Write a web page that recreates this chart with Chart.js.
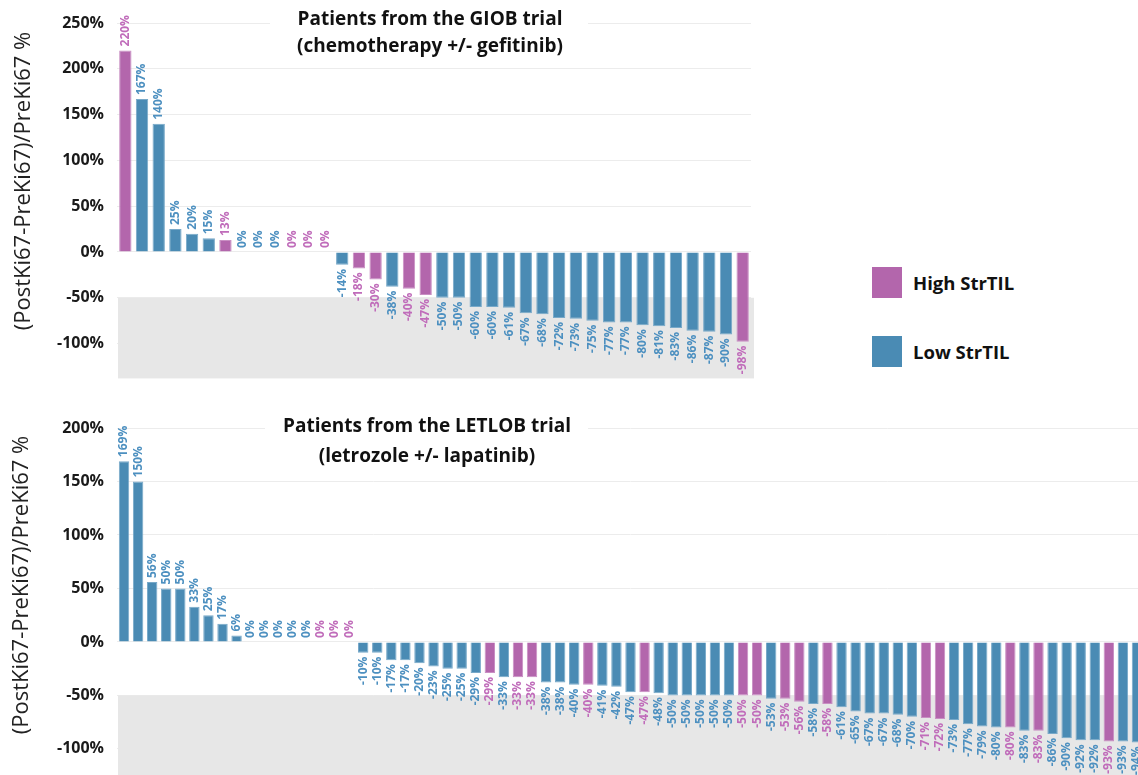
<!DOCTYPE html>
<html>
<head>
<meta charset="utf-8">
<script src="https://cdn.jsdelivr.net/npm/chart.js@4"></script>
<style>
  body { margin: 0; background: #fff; overflow: hidden; }
  #wrap { position: relative; width: 1138px; height: 775px; overflow: hidden; font-family: 'Open Sans', sans-serif; }
  #giobChart { position: absolute; left: 0; top: 0; }
  #letlobChart { position: absolute; left: 0; top: 400px; }
  .legend { position: absolute; left: 872px; display: flex; align-items: center; font-weight: 700; font-size: 18.5px; color: #111; }
  .legend span.sw { width: 30px; height: 31px; margin-right: 11px; display: inline-block; }
</style>
</head>
<body>
<div id="wrap">
  <canvas id="giobChart" width="760" height="401"></canvas>
  <canvas id="letlobChart" width="1150" height="425"></canvas>
  <div class="legend" style="top:267px;"><span class="sw" style="background:#b366ac;"></span>High StrTIL</div>
  <div class="legend" style="top:336px;"><span class="sw" style="background:#4a8bb4;"></span>Low StrTIL</div>
</div>
<script>
// GIOB trial (chemotherapy +/- gefitinib), one bar per patient
const giobValues = [220, 167, 140, 25, 20, 15, 13, 0, 0, 0, 0, 0, 0,
  -14, -18, -30, -38, -40, -47, -50, -50, -60, -60, -61, -67, -68, -72, -73,
  -75, -77, -77, -80, -81, -83, -86, -87, -90, -98];
const giobTil = ['H', 'L', 'L', 'L', 'L', 'L', 'H', 'L', 'L', 'L', 'H', 'H', 'H',
  'L', 'H', 'H', 'L', 'H', 'H', 'L', 'L', 'L', 'L', 'L', 'L', 'L', 'L', 'L',
  'L', 'L', 'L', 'L', 'L', 'L', 'L', 'L', 'L', 'H'];
const giobTicks = [250, 200, 150, 100, 50, 0, -50, -100];

// LETLOB trial (letrozole +/- lapatinib); last bar is cut off in the source
const letlobValues = [169, 150, 56, 50, 50, 33, 25, 17, 6, 0, 0, 0, 0, 0, 0, 0, 0,
  -10, -10, -17, -17, -20, -23, -25, -25, -29, -29, -33, -33, -33, -38, -38, -40, -40,
  -41, -42, -47, -47, -48, -50, -50, -50, -50, -50, -50, -50, -53, -53, -56, -58, -58,
  -61, -65, -67, -67, -68, -70, -71, -72, -73, -77, -79, -80, -80, -83, -83, -86, -90,
  -92, -92, -93, -93, -94];
const letlobTil = ['L', 'L', 'L', 'L', 'L', 'L', 'L', 'L', 'L', 'L', 'L', 'L', 'L', 'L', 'H', 'H', 'H',
  'L', 'L', 'L', 'L', 'L', 'L', 'L', 'L', 'L', 'H', 'L', 'H', 'H', 'L', 'L', 'L', 'H',
  'L', 'L', 'L', 'H', 'L', 'L', 'L', 'L', 'L', 'L', 'H', 'H', 'L', 'H', 'H', 'L', 'H',
  'L', 'L', 'L', 'L', 'L', 'L', 'H', 'H', 'L', 'L', 'L', 'L', 'H', 'L', 'H', 'L', 'L',
  'L', 'L', 'H', 'L', 'L'];
const letlobTicks = [200, 150, 100, 50, 0, -50, -100];

const BAR = { H: '#b366ac', L: '#4a8bb4' };
const EDGE = { H: '#c98fc3', L: '#78a9c9' };
const LABEL = { H: '#c06cba', L: '#4d90c0' };
const FONT = "'Open Sans', sans-serif";
const AXIS_TITLE = '(PostKi67-PreKi67)/PreKi67 %';

// grey band from -50% down, white title box, axis title, bar value labels
const decorPlugin = {
  id: 'decor',
  beforeDatasetsDraw(chart, args, opts) {
    const { ctx, chartArea: a, scales: { y } } = chart;
    ctx.save();
    ctx.fillStyle = '#e7e7e7';
    const yb = y.getPixelForValue(-50);
    ctx.fillRect(a.left + 1, yb, a.right - a.left + 2, a.bottom - yb);
    ctx.fillStyle = '#fff';
    ctx.fillRect(opts.box[0], opts.box[1], opts.box[2], opts.box[3]);
    ctx.restore();
  },
  afterDatasetsDraw(chart, args, opts) {
    const { ctx } = chart;
    const meta = chart.getDatasetMeta(0);
    const til = opts.til;
    ctx.save();
    ctx.font = `bold 12px ${FONT}`;
    ctx.textBaseline = 'middle';
    meta.data.forEach((bar, i) => {
      const v = chart.data.datasets[0].data[i];
      ctx.fillStyle = LABEL[til[i]];
      ctx.save();
      ctx.translate(bar.x, v >= 0 ? bar.y - 4 : bar.y + 4);
      ctx.rotate(-Math.PI / 2);
      ctx.textAlign = v >= 0 ? 'left' : 'right';
      ctx.fillText(v + '%', 0, 0);
      ctx.restore();
    });
    ctx.restore();
  },
  afterDraw(chart, args, opts) {
    const { ctx } = chart;
    ctx.save();
    ctx.fillStyle = '#111';
    ctx.textAlign = 'center';
    ctx.textBaseline = 'middle';
    ctx.font = `bold 19px ${FONT}`;
    ctx.fillText(opts.title[0], opts.titleX, opts.titleY[0]);
    ctx.fillText(opts.title[1], opts.titleX, opts.titleY[1]);
    ctx.font = `22px ${FONT}`;
    ctx.fillStyle = '#222';
    ctx.translate(opts.axisX, opts.axisY);
    ctx.rotate(-Math.PI / 2);
    ctx.fillText(AXIS_TITLE, 0, 0);
    ctx.restore();
  },
};

function makeChart(id, values, til, ticks, min, max, padding, decor) {
  return new Chart(document.getElementById(id), {
    type: 'bar',
    data: {
      labels: values.map((_, i) => i + 1),
      datasets: [{
        data: values,
        backgroundColor: til.map((t) => BAR[t]),
        borderColor: til.map((t) => EDGE[t]),
        borderWidth: 1,
        barPercentage: 0.74,
        categoryPercentage: 1,
      }],
    },
    options: {
      responsive: false,
      animation: false,
      layout: { padding },
      plugins: { legend: { display: false }, tooltip: { enabled: false }, decor },
      scales: {
        x: { display: false },
        y: {
          min, max,
          afterBuildTicks: (s) => { s.ticks = ticks.map((v) => ({ value: v })); },
          afterFit: (s) => { s.width = 117; },
          grid: { color: '#ececec', drawTicks: false },
          border: { display: false },
          ticks: {
            padding: 13,
            color: '#1a1a1a',
            font: { family: FONT, size: 16, weight: 'bold' },
            callback: (v) => v + '%',
          },
        },
      },
    },
    plugins: [decorPlugin],
  });
}

makeChart('giobChart', giobValues, giobTil, giobTicks, -138, 250,
  { top: 23, right: 9, bottom: 0, left: 0 },
  {
    til: giobTil,
    box: [270, 2, 318, 60],
    title: ['Patients from the GIOB trial', '(chemotherapy +/- gefitinib)'],
    titleX: 430, titleY: [20, 47],
    axisX: 24, axisY: 181,
  });

makeChart('letlobChart', letlobValues, letlobTil, letlobTicks, -150, 200,
  { top: 28, right: 6, bottom: 0, left: 0 },
  {
    til: letlobTil,
    box: [265, 6, 323, 66],
    title: ['Patients from the LETLOB trial', '(letrozole +/- lapatinib)'],
    titleX: 427, titleY: [27, 57],
    axisX: 22, axisY: 185,
  });
</script>
</body>
</html>
